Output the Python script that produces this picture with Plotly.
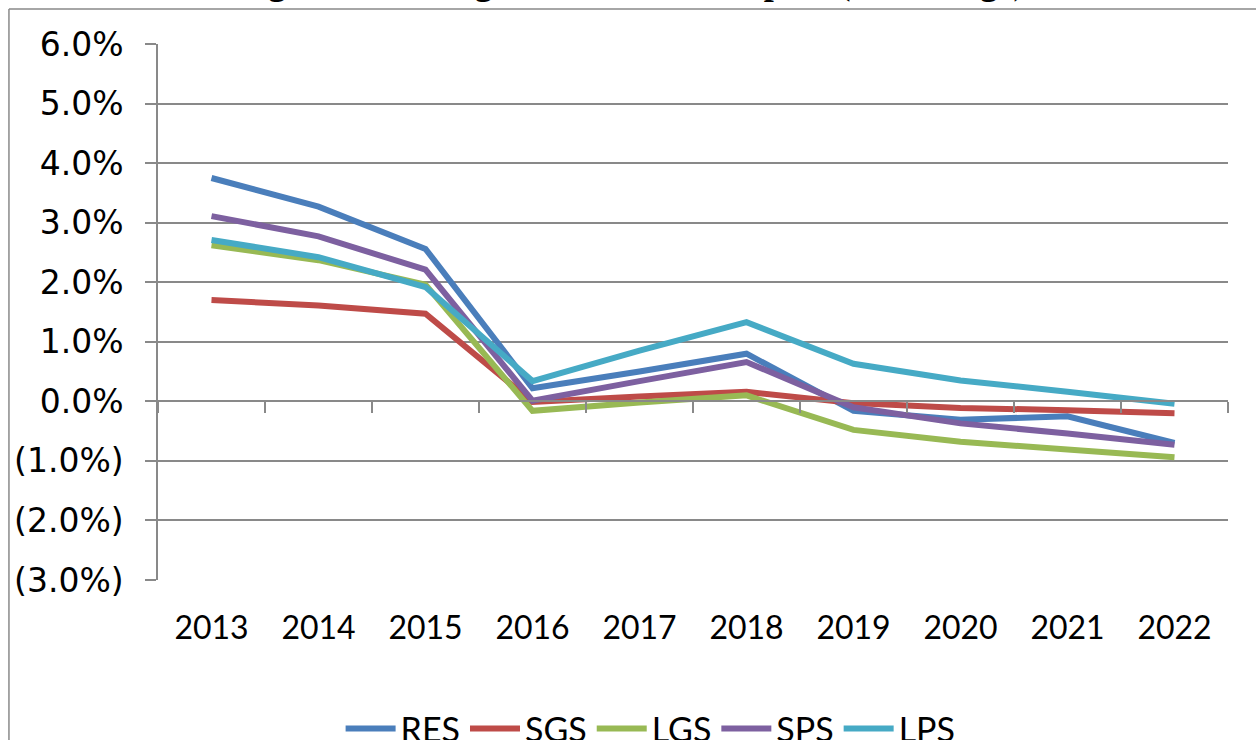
import plotly.graph_objects as go

years = ["2013", "2014", "2015", "2016", "2017", "2018", "2019", "2020", "2021", "2022"]
series_names = ["RES", "SGS", "LGS", "SPS", "LPS"]
res = [0.0375, 0.0327, 0.0256, 0.0022, 0.0050, 0.0080, -0.0016, -0.0031, -0.0025, -0.0070]
sgs = [0.0170, 0.0161, 0.0147, -0.0001, 0.0008, 0.0016, -0.0003, -0.0011, -0.0015, -0.0020]
lgs = [0.0262, 0.0237, 0.0196, -0.0016, -0.0002, 0.0010, -0.0048, -0.0068, -0.0081, -0.0094]
sps = [0.0311, 0.0277, 0.0221, 0.0001, 0.0034, 0.0066, -0.0010, -0.0037, -0.0054, -0.0073]
lps = [0.0271, 0.0242, 0.0192, 0.0034, 0.0085, 0.0133, 0.0063, 0.0035, 0.0016, -0.0004]
series_values = [res, sgs, lgs, sps, lps]
colors = ["#4A7EBB", "#BE4B48", "#98B954", "#7D60A0", "#46AAC5"]

y_tick_vals = [-0.03, -0.02, -0.01, 0.0, 0.01, 0.02, 0.03, 0.04, 0.05, 0.06]
y_tick_text = ["(3.0%)", "(2.0%)", "(1.0%)", "0.0%", "1.0%", "2.0%", "3.0%", "4.0%", "5.0%", "6.0%"]
title_text = "Figure 2: Average Annual Rate Impact (% Change)"

GRID = "#898989"
FONT = "Lato"

fig = go.Figure()
for name, vals, col in zip(series_names, series_values, colors):
    fig.add_trace(go.Scatter(x=years, y=vals, name=name, mode="lines",
                             line=dict(color=col, width=6), xaxis="x", yaxis="y"))

# helper trace so the zero-line category axis (with boundary ticks) is drawn
fig.add_trace(go.Scatter(x=years, y=[None] * len(years), xaxis="x2", yaxis="y",
                         showlegend=False, hoverinfo="skip", mode="lines"))

fig.update_layout(
    width=1256, height=740,
    margin=dict(l=158, r=28, t=44, b=160, autoexpand=False),
    paper_bgcolor="white", plot_bgcolor="white",
    showlegend=True,
    legend=dict(orientation="h", x=0.518, xanchor="center", xref="container",
                y=0.015, yanchor="middle", yref="container",
                font=dict(family=FONT, size=34, color="black"),
                traceorder="normal", itemwidth=50, tracegroupgap=0),
    xaxis=dict(type="category", categoryorder="array", categoryarray=years,
               range=[-0.5, 9.5], showgrid=False, showline=False, zeroline=False,
               automargin=False,
               ticks="outside", ticklen=20, tickcolor="rgba(0,0,0,0)",
               tickfont=dict(family=FONT, size=32, color="black")),
    xaxis2=dict(type="category", categoryorder="array", categoryarray=years,
                range=[-0.5, 9.5], overlaying="x", anchor="free", position=1/3,
                side="bottom", showgrid=False, showline=True, linecolor=GRID, linewidth=1.5,
                automargin=False,
                ticks="outside", ticklen=11, tickwidth=1.5, tickcolor=GRID,
                tickson="boundaries", showticklabels=False, zeroline=False),
    yaxis=dict(range=[-0.03, 0.06], tickvals=y_tick_vals, ticktext=y_tick_text,
               showgrid=True, gridcolor=GRID, gridwidth=1.5,
               showline=True, linecolor=GRID, linewidth=1.5, automargin=False,
               ticks="outside", ticklen=11, tickwidth=1.5, tickcolor=GRID,
               zeroline=False, ticklabelstandoff=15,
               tickfont=dict(family="DejaVu Sans", size=33, color="black")),
    font=dict(family=FONT, color="black"),
)

# outer chart-area frame (top and left edges visible)
fig.add_shape(type="line", xref="paper", yref="paper", x0=-0.1393, x1=1.2,
              y0=1.0653, y1=1.0653, line=dict(color=GRID, width=1.5))
fig.add_shape(type="line", xref="paper", yref="paper", x0=-0.1393, x1=-0.1393,
              y0=1.0653, y1=-0.4, line=dict(color=GRID, width=1.5))

# title, mostly cut off at the top edge
fig.add_annotation(text="<b>" + title_text + "</b>", xref="paper", yref="paper",
                   x=0.442, xanchor="center", y=1.0737, yanchor="bottom", showarrow=False,
                   font=dict(family="Liberation Serif", size=36, color="black"))

fig.write_html("out.html", config={"displayModeBar": False},
               post_script="document.body.style.margin='0';")
